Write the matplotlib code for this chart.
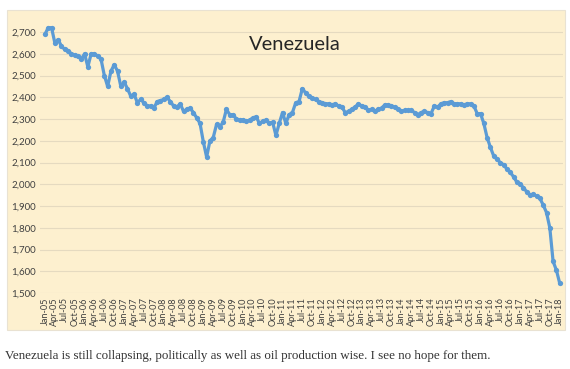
import numpy as np
import pandas as pd
import matplotlib
matplotlib.use("Agg")
import matplotlib.pyplot as plt
from matplotlib.patches import Rectangle

# Venezuela crude production, kb/d, monthly Jan-05 .. Jan-18
prod_2005 = [2690, 2720, 2720, 2650, 2665, 2635, 2620, 2615, 2600, 2595, 2590, 2575]
prod_2006 = [2600, 2540, 2600, 2600, 2590, 2575, 2500, 2450, 2520, 2550, 2520, 2450]
prod_2007 = [2470, 2440, 2405, 2415, 2375, 2390, 2375, 2360, 2360, 2350, 2380, 2385]
prod_2008 = [2390, 2400, 2380, 2360, 2355, 2370, 2335, 2345, 2350, 2330, 2305, 2280]
prod_2009 = [2195, 2125, 2200, 2215, 2275, 2265, 2285, 2345, 2320, 2320, 2300, 2295]
prod_2010 = [2295, 2290, 2295, 2305, 2310, 2280, 2290, 2295, 2280, 2285, 2225, 2280]
prod_2011 = [2330, 2280, 2320, 2330, 2375, 2380, 2440, 2420, 2405, 2395, 2390, 2380]
prod_2012 = [2375, 2370, 2370, 2365, 2370, 2360, 2355, 2330, 2335, 2345, 2355, 2370]
prod_2013 = [2360, 2355, 2340, 2345, 2335, 2345, 2350, 2365, 2365, 2360, 2355, 2345]
prod_2014 = [2335, 2340, 2340, 2340, 2330, 2320, 2330, 2335, 2330, 2325, 2360, 2355]
prod_2015 = [2370, 2375, 2375, 2380, 2370, 2370, 2370, 2365, 2370, 2370, 2360, 2325]
prod_2016 = [2325, 2280, 2215, 2170, 2130, 2115, 2100, 2090, 2070, 2055, 2035, 2010]
prod_2017 = [2000, 1985, 1965, 1950, 1955, 1945, 1935, 1905, 1870, 1800, 1645, 1605]
prod_2018 = [1545]

production = (prod_2005 + prod_2006 + prod_2007 + prod_2008 + prod_2009 + prod_2010
              + prod_2011 + prod_2012 + prod_2013 + prod_2014 + prod_2015 + prod_2016
              + prod_2017 + prod_2018)
months = pd.date_range("2005-01-01", periods=len(production), freq="MS")
month_labels = [d.strftime("%b-%y") for d in months]
y_ticks = [1500, 1600, 1700, 1800, 1900, 2000, 2100, 2200, 2300, 2400, 2500, 2600, 2700]

title = "Venezuela"
caption = ("Venezuela is still collapsing, politically as well as oil production wise. "
           "I see no hope for them.")

panel_color = "#FDF0CF"
line_color = "#5B9BD5"
grid_color = "#E5DAC0"

fig = plt.figure(figsize=(5.70, 3.69), dpi=100)
fig.patch.set_facecolor("white")

# yellow chart panel, behind the axes
panel = Rectangle((7 / 570, 1 - 330 / 369), 558 / 570, 320 / 369,
                  transform=fig.transFigure, facecolor=panel_color,
                  edgecolor="#E9E2D2", linewidth=0.8, zorder=-5)
fig.add_artist(panel)

ax = fig.add_axes([40 / 570, 1 - 293 / 369, 523 / 570, 274 / 369])
ax.set_facecolor("none")
ax.set_zorder(2)

x = np.arange(len(production))
ax.plot(x, production, color=line_color, lw=2.3, marker="o", ms=3.8,
        markeredgewidth=0, zorder=3, clip_on=False)

ax.set_ylim(1500, 2760)
ax.set_xlim(-1.5, len(production))
ax.set_yticks(y_ticks)
ax.set_yticklabels([f"{v:,}" for v in y_ticks], fontsize=7, color="#404040",
                   family="Lato")
for v in y_ticks:
    ax.axhline(v, color=grid_color, lw=0.8, zorder=1)

tick_pos = x[::3]
ax.set_xticks(tick_pos)
ax.set_xticklabels([month_labels[i] for i in tick_pos], rotation=90, fontsize=6.6,
                   color="#404040", family="Lato")
ax.tick_params(axis="both", length=0, pad=3)
for s in ax.spines.values():
    s.set_visible(False)

fig.text(295 / 570, 1 - 45 / 369, title, ha="center", va="center", fontsize=14.5,
         color="#262626", family="Lato")
fig.text(5 / 570, 1 - 356 / 369, caption, ha="left", va="center", fontsize=9.4,
         color="#333333", family="Liberation Serif")

fig.savefig("out.png", dpi=100)
